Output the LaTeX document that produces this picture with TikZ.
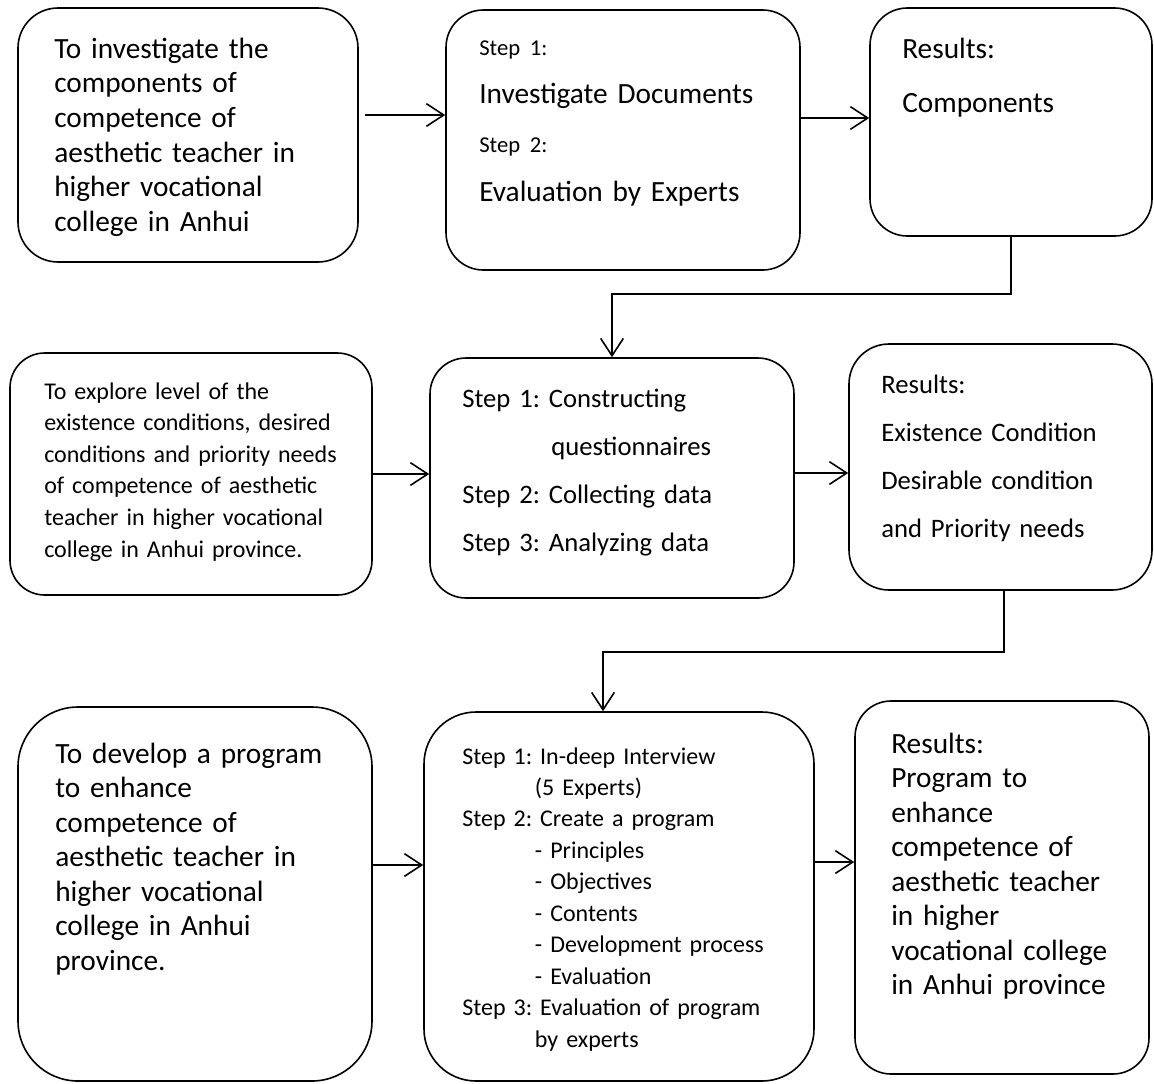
\documentclass[tikz,border=0pt]{standalone}
\usepackage{fontspec}
\setmainfont{Carlito}
\usetikzlibrary{arrows.meta,fit,positioning}
\tikzset{
  box/.style={draw,line width=1.2pt,inner sep=0pt},
  txt/.style={anchor=base west,inner sep=0pt,align=left,text width=300pt},
  link/.style={line width=1.2pt,-{Straight Barb[length=13pt,width=17pt]}},
}
\newcommand{\stepfont}{\fontsize{17}{36}\selectfont}
\frenchspacing
\begin{document}
\begin{tikzpicture}[x=0.75pt,y=-0.75pt]
\useasboundingbox (0,0) rectangle (1154,1083);
\fill[white] (0,0) rectangle (1154,1083);

% first row
\node[box,rounded corners=30pt,fit={(18,8) (358,262)}] (aim1) {};
\node[box,rounded corners=28pt,fit={(446,10) (800,270)}] (steps1) {};
\node[box,rounded corners=28pt,fit={(870,8) (1152,236)}] (results1) {};
\node[txt,font=\fontsize{22}{26}\selectfont] (aim1t) at (54,58)
  {To investigate the\\components of\\competence of\\aesthetic teacher in\\higher vocational\\college in Anhui};
\node[txt,font=\fontsize{22}{36.5}\selectfont] (steps1t) at (479,55)
  {{\stepfont Step 1:}\\Investigate Documents\\{\stepfont Step 2:}\\Evaluation by Experts};
\node[txt,font=\fontsize{22}{40.5}\selectfont] (results1t) at (902,58)
  {Results:\\Components};

% second row
\node[box,rounded corners=26pt,fit={(10,353) (372,595)}] (aim2) {};
\node[box,rounded corners=27pt,fit={(430,358) (794,598)}] (steps2) {};
\node[box,rounded corners=30pt,fit={(849,344) (1152,590)}] (results2) {};
\node[txt,font=\fontsize{18}{23.7}\selectfont] (aim2t) at (44,399)
  {To explore level of the\\existence conditions, desired\\conditions and priority needs\\of competence of aesthetic\\teacher in higher vocational\\college in Anhui province.};
\node[txt,font=\fontsize{20}{36}\selectfont] (steps2t) at (462,407)
  {Step 1: Constructing\\\hspace*{66.75pt}questionnaires\\Step 2: Collecting data\\Step 3: Analyzing data};
\node[txt,font=\fontsize{20}{36}\selectfont] (results2t) at (881,393)
  {Results:\\Existence Condition\\Desirable condition\\and Priority needs};

% third row
\node[box,rounded corners=45pt,fit={(18,707) (372,1081)}] (aim3) {};
\node[box,rounded corners=39pt,fit={(424,712) (814,1081)}] (steps3) {};
\node[box,rounded corners=27pt,fit={(855,701) (1149,1074)}] (results3) {};
\node[txt,font=\fontsize{22}{25.9}\selectfont] (aim3t) at (55,763)
  {To develop a program\\to enhance\\competence of\\aesthetic teacher in\\higher vocational\\college in Anhui\\province.};
\node[txt,font=\fontsize{18}{23.6}\selectfont] (steps3t) at (462,764)
  {Step 1: In-deep Interview\\\hspace*{54.5pt}(5 Experts)\\Step 2: Create a program\\
   \hspace*{54.5pt}- Principles\\\hspace*{54.5pt}- Objectives\\\hspace*{54.5pt}- Contents\\
   \hspace*{54.5pt}- Development process\\\hspace*{54.5pt}- Evaluation\\
   Step 3: Evaluation of program\\\hspace*{54.5pt}by experts};
\node[txt,font=\fontsize{22}{25.9}\selectfont] (results3t) at (891,753)
  {Results:\\Program to\\enhance\\competence of\\aesthetic teacher\\in higher\\vocational college\\in Anhui province};

% connectors
\draw[link,shorten <=5pt] ([yshift=15pt]aim1.east) -- ([yshift=15pt]aim1.east -| steps1.west);
\draw[link] ([yshift=3pt]results1.west -| steps1.east) -- ([yshift=3pt]results1.west);
\draw[link] (results1.south) -- ++(0,57) -| (steps2.north);
\draw[link] (aim2.east) -- (aim2.east -| steps2.west);
\draw[link] ([yshift=-4.5pt]results2.west -| steps2.east) -- ([yshift=-4.5pt]results2.west);
\draw[link] ([xshift=2.6pt]results2.south) -- ++(0,61) -| ([xshift=-12pt]steps3.north);
\draw[link] ([yshift=21.75pt]aim3.east) -- ([yshift=21.75pt]aim3.east -| steps3.west);
\draw[link] ([yshift=19.1pt]results3.west -| steps3.east) -- ([yshift=19.1pt]results3.west);
\end{tikzpicture}
\end{document}
